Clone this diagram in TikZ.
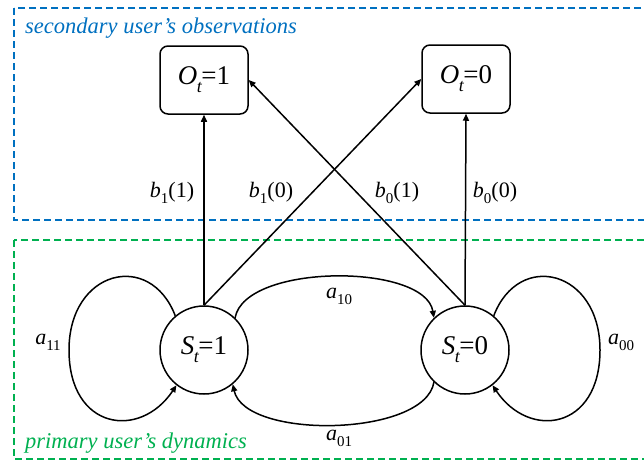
\documentclass[tikz,border=0pt]{standalone}
\usepackage{fontspec}
\setmainfont{Liberation Serif}
\usetikzlibrary{arrows.meta}
\definecolor{regblue}{RGB}{0,112,192}
\definecolor{reggreen}{RGB}{0,176,80}
\newcommand{\lsub}[1]{\raisebox{-0.28em}{\fontsize{15}{15}\selectfont #1}}
\newcommand{\ssub}[1]{\raisebox{-0.3em}{\fontsize{18}{18}\selectfont\itshape #1}}
\begin{document}
\begin{tikzpicture}[x=1pt,y=-1pt,
  obsbox/.style={draw, line width=1.5pt, rounded corners=8pt, minimum width=88pt, minimum height=68pt, inner sep=0pt, font=\fontsize{27}{27}\selectfont},
  statenode/.style={draw, circle, line width=1.5pt, minimum size=88pt, inner sep=0pt, font=\fontsize{27}{27}\selectfont},
  conn/.style={line width=1.5pt, -{Triangle[length=7pt,width=6pt]}},
  lab/.style={font=\fontsize{22}{22}\selectfont, inner sep=0pt},
  region/.style={line width=1.5pt, dash pattern=on 7pt off 4pt},
  regtitle/.style={font=\fontsize{22.5}{22.5}\selectfont\itshape, inner sep=0pt, anchor=base west}]
\useasboundingbox (0,0) rectangle (644,461);
\clip (0,0) rectangle (644,461);
% regions
\draw[region, regblue] (14,8) rectangle (660,220);
\draw[region, reggreen] (14,240) rectangle (660,459);
\node[regtitle, text=regblue] (t1) at (25,33) {secondary user’s observations};
\node[regtitle, text=reggreen] (t2) at (25,448) {primary user’s dynamics};
% nodes
\node[obsbox] (O1) at (204,80) {\textit{O}\kern-0.5pt\ssub{t}\kern-0.5pt=1};
\node[obsbox] (O0) at (466,79) {\textit{O}\kern-0.5pt\ssub{t}\kern-0.5pt=0};
\node[statenode] (S1) at (204,350) {\textit{S}\kern-0.5pt\ssub{t}\kern-0.5pt=1};
\node[statenode] (S0) at (465,350) {\textit{S}\kern-0.5pt\ssub{t}\kern-0.5pt=0};
% observation arrows
\draw[conn] (S1.north) -- (O1.south);
\draw[conn] (S0.north) -- (O0.south);
\draw[conn] (S1.north) -- (O0.west);
\draw[conn] (S0.north) -- (O1.east);
\node[lab] (b11) at (172,193) {\textit{b}\lsub{1}(1)};
\node[lab] (b10) at (271,193) {\textit{b}\lsub{1}(0)};
\node[lab] (b01) at (397,193) {\textit{b}\lsub{0}(1)};
\node[lab] (b00) at (495,193) {\textit{b}\lsub{0}(0)};
% transitions
\draw[conn] (S1.46) .. controls (245,263) and (425,263) .. (S0.134);
\draw[conn] (S0.-134) .. controls (425,437) and (245,440) .. (S1.-50);
\draw[conn] (S1.130) .. controls (150,250) and (69,270) .. (69,350)
  .. controls (69,430) and (140,440) .. (S1.-128);
\draw[conn] (S0.50) .. controls (519,250) and (600,270) .. (600,350)
  .. controls (600,430) and (529,440) .. (S0.-52);
\node[lab] (a10) at (339,296) {\textit{a}\lsub{10}};
\node[lab] (a01) at (339,438) {\textit{a}\lsub{01}};
\node[lab] (a11) at (48,342) {\textit{a}\lsub{11}};
\node[lab] (a00) at (621,342) {\textit{a}\lsub{00}};
\end{tikzpicture}
\end{document}
